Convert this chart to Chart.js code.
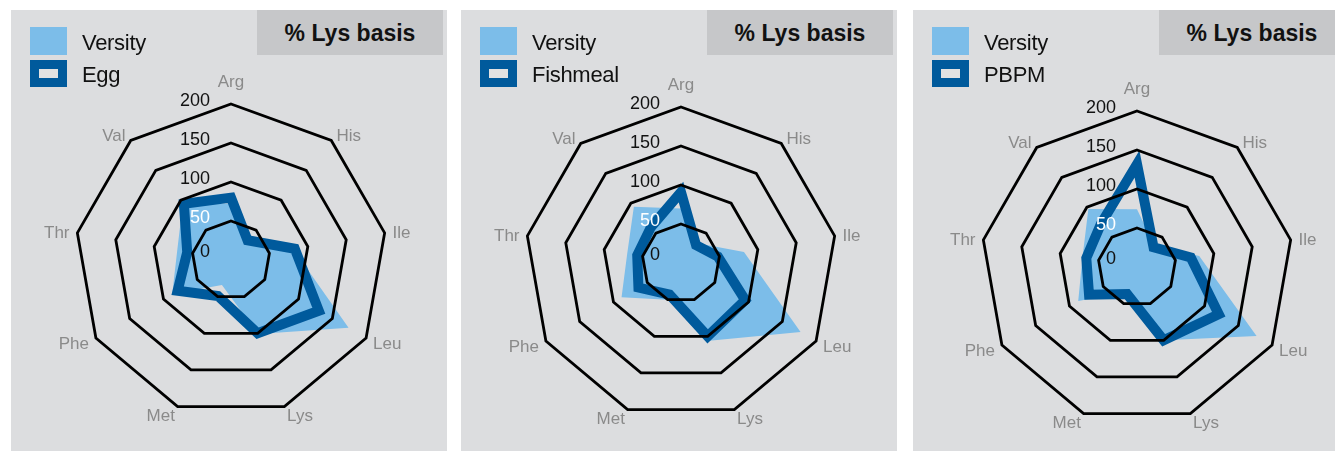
<!DOCTYPE html>
<html lang="en">
<head>
    <meta charset="UTF-8">
    <title>Amino acid profile, % Lys basis</title>
    <style>
        body {
            margin: 0;
            width: 1335px;
            height: 451px;
            overflow: hidden;
            background: #ffffff;
            font-family: "Liberation Sans", Arial, sans-serif;
        }

        .panel {
            position: absolute;
            top: 10px;
            width: 436px;
            height: 441px;
            background: #dcdddf;
        }

        .panel canvas {
            position: absolute;
            left: 0;
            top: 0;
        }

        .basis {
            position: absolute;
            left: 246px;
            top: 0;
            width: 186px;
            height: 45px;
            line-height: 47px;
            background: #c6c7c9;
            color: #111;
            font-weight: bold;
            font-size: 23px;
            text-align: center;
        }

        .swatch {
            position: absolute;
            left: 19px;
            width: 37px;
            box-sizing: border-box;
        }

        .swatch.versity {
            top: 17px;
            height: 28px;
            background: #7cbde9;
        }

        .swatch.other {
            top: 50px;
            height: 27px;
            border: 9px solid #005a9c;
            background: #e2e2e2;
        }

        .label {
            position: absolute;
            left: 71px;
            font-size: 22px;
            letter-spacing: -0.3px;
            color: #111;
            line-height: 26px;
        }
    </style>
    <script src="https://cdn.jsdelivr.net/npm/chart.js"></script>
</head>
<body>

<div id="panels"></div>

<script>
    // axes, clockwise from the top
    const aminoAcids = ['Arg', 'His', 'Ile', 'Leu', 'Lys', 'Met', 'Phe', 'Thr', 'Val'];
    const tickValues = [0, 50, 100, 150, 200];

    // values, % of Lys
    const versityVsEgg = [72, 34, 81, 174, 101, 34, 87, 70, 96];
    const egg = [80, 33, 83, 130, 100, 49, 79, 57, 94];

    const versityVsFishmeal = [70, 33, 82, 177, 106, 50, 88, 70, 94];
    const fishmeal = [91, 30, 48, 95, 100, 43, 63, 57, 60];

    const versityVsPbpm = [74, 35, 81, 177, 100, 34, 87, 71, 97];
    const pbpm = [132, 33, 70, 121, 100, 37, 71, 66, 72];

    const compareNames = ['Egg', 'Fishmeal', 'PBPM'];
    const versitySets = [versityVsEgg, versityVsFishmeal, versityVsPbpm];
    const compareSets = [egg, fishmeal, pbpm];

    // panel placement on the page and radar centre inside each panel
    const panelLeft = [11, 461, 913];
    const centreX = [220, 220, 224];
    const centreY = [250, 253, 257];
    const radius = 156;
    const W = 436, H = 441;

    const lightBlue = '#7cbde9';
    const darkBlue = '#005a9c';

    // draws the tick numbers and the amino acid names
    const labelPlugin = {
        id: 'radarText',
        afterDraw(chart) {
            const s = chart.scales.r;
            const ctx = chart.ctx;
            ctx.save();

            ctx.font = '18px "Liberation Sans", Arial, sans-serif';
            ctx.textBaseline = 'middle';
            tickValues.forEach(v => {
                const d = s.getDistanceFromCenterForValue(v);
                ctx.fillStyle = v === 50 ? '#ffffff' : '#111111';
                ctx.textAlign = 'right';
                ctx.fillText(String(v), s.xCenter - 21, s.yCenter - d - (v === 0 ? 8 : 3));
            });

            ctx.font = '17px "Liberation Sans", Arial, sans-serif';
            ctx.fillStyle = '#8a8a8a';
            aminoAcids.forEach((name, i) => {
                const a = i * 2 * Math.PI / aminoAcids.length;
                const sin = Math.sin(a);
                if (Math.abs(sin) < 0.1) {
                    ctx.textAlign = 'center';
                    const p = s.getPointPosition(i, s.drawingArea + 22);
                    ctx.fillText(name, p.x, p.y);
                } else {
                    const p = s.getPointPosition(i, s.drawingArea + 8);
                    ctx.textAlign = sin > 0 ? 'left' : 'right';
                    ctx.fillText(name, p.x, p.y + 2);
                }
            });
            ctx.restore();
        }
    };

    const holder = document.getElementById('panels');

    compareNames.forEach((name, k) => {
        const panel = document.createElement('div');
        panel.className = 'panel';
        panel.style.left = panelLeft[k] + 'px';

        const canvas = document.createElement('canvas');
        canvas.width = W;
        canvas.height = H;
        canvas.style.width = W + 'px';
        canvas.style.height = H + 'px';
        panel.appendChild(canvas);

        panel.insertAdjacentHTML('beforeend',
            '<div class="basis">% Lys basis</div>' +
            '<div class="swatch versity"></div>' +
            '<div class="label" style="top:20px">Versity</div>' +
            '<div class="swatch other"></div>' +
            '<div class="label" style="top:52px">' + name + '</div>');
        holder.appendChild(panel);

        new Chart(canvas.getContext('2d'), {
            type: 'radar',
            data: {
                labels: aminoAcids,
                datasets: [{
                    label: name,
                    data: compareSets[k],
                    order: 0,
                    fill: false,
                    borderColor: darkBlue,
                    backgroundColor: 'rgba(0,0,0,0)',
                    borderWidth: 10,
                    borderJoinStyle: 'miter',
                    pointRadius: 0,
                    pointHoverRadius: 0
                }, {
                    label: 'Versity',
                    data: versitySets[k],
                    order: 1,
                    fill: true,
                    backgroundColor: lightBlue,
                    borderWidth: 0,
                    pointRadius: 0,
                    pointHoverRadius: 0
                }]
            },
            options: {
                responsive: false,
                maintainAspectRatio: false,
                devicePixelRatio: 1,
                animation: false,
                layout: {
                    padding: {
                        left: centreX[k] - radius,
                        right: W - centreX[k] - radius,
                        top: centreY[k] - radius,
                        bottom: H - centreY[k] - radius
                    }
                },
                plugins: {
                    legend: { display: false },
                    tooltip: { enabled: false }
                },
                scales: {
                    r: {
                        min: 0,
                        max: 200,
                        ticks: { stepSize: 50, display: false },
                        pointLabels: { display: false },
                        angleLines: { display: false },
                        grid: { color: '#000000', lineWidth: 2.8, z: 1 }
                    }
                }
            },
            plugins: [labelPlugin]
        });
    });
</script>

</body>
</html>
